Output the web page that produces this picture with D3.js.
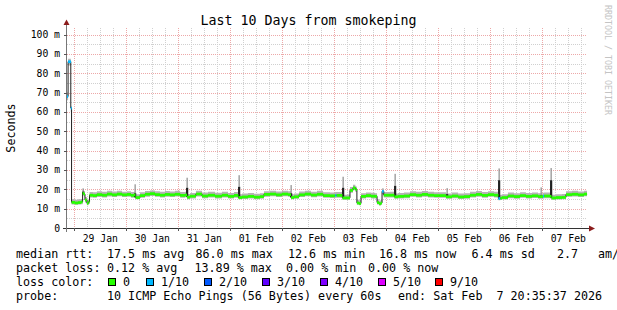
<!DOCTYPE html>
<html><head><meta charset="utf-8">
<script src="https://cdn.jsdelivr.net/npm/d3@7"></script>
<style>
html,body{margin:0;padding:0;background:#fff;overflow:hidden}
svg{display:block}
text{font-family:"DejaVu Sans Mono",monospace;fill:#000;white-space:pre}
</style></head><body>
<svg id="c" width="617" height="310"></svg>
<script>
// ---------------- data ----------------
const chartTitle = "Last 10 Days from smokeping";
const yAxisTitle = "Seconds";
const watermark = "RRDTOOL / TOBI OETIKER";
const startTime = new Date(Date.UTC(2026, 0, 28, 20, 35, 37));
const endTime = new Date(Date.UTC(2026, 1, 7, 20, 35, 37));

const yTickValues = [0, 10, 20, 30, 40, 50, 60, 70, 80, 90, 100];
const yTickLabels = ["0", "10 m", "20 m", "30 m", "40 m", "50 m", "60 m", "70 m", "80 m", "90 m", "100 m"];
const dayLabels = ["29 Jan", "30 Jan", "31 Jan", "01 Feb", "02 Feb", "03 Feb", "04 Feb", "05 Feb", "06 Feb", "07 Feb"];

// hours since start, median rtt (ms), smoke min/max (ms), loss colour index
const hours = [0.0,0.5,1.4,1.75,2.1,3.7,5.1,6.5,7.2,7.8,8.3,9.2,9.9,10.4,12.0,13.8,16.2,18.5,20.8,23.1,25.4,27.7,29.5,30.9,31.6,32.3,33.7,36.0,38.3,40.6,42.9,45.2,47.5,49.8,52.2,54.5,55.4,56.8,59.5,62.3,65.1,68.3,71.5,74.3,77.1,79.1,80.8,83.5,86.3,89.1,90.9,93.7,96.5,99.2,102.0,103.4,104.8,107.1,109.8,112.6,115.4,118.2,121.4,123.8,124.4,127.1,129.2,130.6,132.0,133.1,133.8,134.8,135.7,138.0,140.3,142.1,143.1,144.0,144.9,145.4,146.2,149.0,151.1,152.8,155.5,158.3,161.1,163.8,166.6,169.4,172.1,174.9,177.7,180.5,183.2,186.0,188.8,191.5,194.3,197.1,199.1,200.0,200.8,203.5,206.3,209.1,211.8,214.6,217.4,219.7,220.2,222.9,223.6,225.7,228.5,230.3,233.1,235.9,238.6,240.0];
const medianMs = [68,86,86,62,13.3,13.0,13.2,13.5,18.0,17.5,14.5,12.8,13.5,17.0,16.8,17.3,17.0,17.6,17.2,17.6,17.2,17.4,16.9,17.2,15.8,15.8,16.8,17.5,17.8,17.3,17.0,17.4,17.2,17.5,16.9,17.1,16.0,16.5,17.6,16.6,17.0,16.5,17.0,16.4,16.9,15.8,16.1,16.4,16.0,16.3,17.4,17.6,17.2,17.6,17.3,15.8,16.2,17.2,17.6,17.1,17.5,16.8,16.7,16.9,16.9,15.6,15.6,19.5,20.8,20.0,13.0,12.7,16.4,16.8,16.5,16.4,13.2,12.6,13.0,19.0,17.0,17.0,16.2,16.4,16.6,17.3,17.0,17.4,17.0,16.8,16.8,16.2,16.6,16.1,16.3,17.0,17.4,16.9,17.3,17.0,15.3,15.5,15.8,16.6,16.3,16.8,16.4,16.7,16.3,16.5,16.6,16.4,15.6,15.8,15.9,17.3,17.5,17.2,17.6,17.5];
const smokeLow = [66,84,84,60,12.2,12.0,12.1,12.3,16.8,16.3,13.2,11.8,12.4,15.8,15.6,16.0,15.8,16.3,16.0,16.4,16.0,16.1,15.7,16.0,14.8,14.8,15.6,16.2,16.5,16.1,15.8,16.2,16.0,16.3,15.7,15.9,14.9,15.3,16.3,15.4,15.8,15.3,15.8,15.2,15.7,14.8,15.0,15.2,14.9,15.1,16.2,16.4,16.0,16.4,16.1,14.8,15.1,16.0,16.4,15.9,16.3,15.6,15.5,15.7,15.7,14.6,14.6,18.2,19.5,18.6,12.0,11.7,15.2,15.6,15.3,15.2,12.2,11.6,12.0,17.5,15.8,15.8,15.1,15.2,15.4,16.1,15.8,16.2,15.8,15.6,15.6,15.1,15.4,15.0,15.1,15.8,16.2,15.7,16.1,15.8,14.3,14.5,14.7,15.4,15.1,15.6,15.2,15.5,15.1,15.3,15.4,15.2,14.6,14.7,14.8,16.1,16.3,16.0,16.4,16.3];
const smokeHigh = [70,87.5,87.5,63,14.8,14.6,14.8,15.0,19.5,19.0,16.0,14.3,15.0,18.6,18.5,19.0,18.7,19.2,18.9,19.2,18.8,19.0,18.6,18.8,17.4,17.5,18.5,19.1,19.4,19.0,18.7,19.1,18.9,19.2,18.6,18.8,17.6,18.1,19.2,18.3,18.7,18.2,18.7,18.1,18.6,17.4,17.8,18.1,17.7,18.0,19.0,19.3,18.9,19.3,19.0,17.4,17.9,18.9,19.3,18.8,19.2,18.5,18.4,18.6,18.6,17.2,17.3,21.2,22.3,21.5,14.6,14.3,18.0,18.4,18.2,18.0,14.8,14.2,14.6,20.5,18.6,18.7,17.8,18.1,18.3,19.0,18.7,19.1,18.7,18.5,18.5,17.9,18.3,17.8,18.0,18.7,19.1,18.6,19.0,18.7,17.0,17.2,17.5,18.3,18.0,18.5,18.1,18.4,18.0,18.2,18.3,18.1,17.2,17.5,17.6,19.0,19.2,18.9,19.3,19.2];
const lossIndex = [1,1,1,1,0,0,0,0,0,0,0,0,0,0,0,0,0,0,0,0,0,0,0,0,0,0,0,0,0,0,0,0,0,0,0,0,0,0,0,0,0,0,0,0,0,0,0,0,0,0,0,0,0,0,0,0,0,0,0,0,0,0,0,1,0,0,0,0,0,0,0,0,0,0,0,0,0,0,0,1,0,0,0,0,0,0,0,0,0,0,0,0,0,0,0,0,0,0,0,0,1,0,0,0,0,0,0,0,0,1,0,0,0,0,0,0,0,0,0,0];

// smoke spikes: hours since start, base (ms), dense part top (ms), sparse top (ms)
const spikeHours = [7.4, 31.4, 55.4, 79.4, 103.4, 127.4, 151.4, 175.4, 199.4, 218.8, 223.4];
const spikeBase = [17.5, 15.8, 16.0, 15.8, 15.8, 15.6, 16.2, 16.2, 15.3, 16.3, 15.6];
const spikeDense = [18.8, 18.0, 20.8, 21.3, 18.0, 20.8, 21.8, 17.5, 24.7, 17.0, 24.7];
const spikeTop = [20.5, 22.6, 26.0, 27.3, 22.2, 26.5, 28.0, 20.6, 30.8, 21.0, 31.0];

const lossLabels = ["0", "1/10", "2/10", "3/10", "4/10", "5/10", "9/10"];
const lossColors = ["#26ff00", "#00b8ff", "#0059ff", "#5e00ff", "#7e00ff", "#dd00ff", "#ff0000"];

const rttStats = ["median rtt:", "17.5 ms avg", "86.0 ms max", "12.6 ms min", "16.8 ms now", "6.4 ms sd", "2.7", "am/s"];
const lossStats = ["packet loss:", "0.12 % avg", "13.89 % max", "0.00 % min", "0.00 % now"];
const lossColorTitle = "loss color:";
const probeInfo = ["probe:", "10 ICMP Echo Pings (56 Bytes) every 60s", "end: Sat Feb  7 20:35:37 2026"];

// ---------------- layout ----------------
const svg = d3.select("#c");
const L = 67, R = 587, T = 28, B = 228;
const toDate = h => new Date(startTime.getTime() + h * 3600e3);
const x = d3.scaleUtc().domain([startTime, endTime]).range([L, R]);
const y = d3.scaleLinear().domain([0, 103.4]).range([B, T]);

// grid
const grid = svg.append("g").attr("shape-rendering", "crispEdges");
const minorY = d3.range(5, 103, 5).filter(v => v % 10 !== 0);
const majorY = yTickValues.filter(v => v > 0);
const minorCol = "#d0d0d0", majorCol = "#eda8a8";
grid.selectAll(".mny").data(minorY).join("line")
  .attr("x1", L).attr("x2", R).attr("y1", d => Math.round(y(d)) + 0.5).attr("y2", d => Math.round(y(d)) + 0.5)
  .attr("stroke", minorCol).attr("stroke-dasharray", "1,1");
const sixH = d3.utcHour.every(6).range(startTime, endTime).filter(d => d.getUTCHours() !== 0);
grid.selectAll(".mnx").data(sixH).join("line")
  .attr("x1", d => Math.round(x(d)) + 0.5).attr("x2", d => Math.round(x(d)) + 0.5).attr("y1", T).attr("y2", B)
  .attr("stroke", minorCol).attr("stroke-dasharray", "1,1");
grid.selectAll(".mjy").data(majorY).join("line")
  .attr("x1", L).attr("x2", R).attr("y1", d => Math.round(y(d)) + 0.5).attr("y2", d => Math.round(y(d)) + 0.5)
  .attr("stroke", majorCol).attr("stroke-dasharray", "1,1");
const days = d3.utcDay.range(startTime, endTime);
grid.selectAll(".mjx").data(days).join("line")
  .attr("x1", d => Math.round(x(d)) + 0.5).attr("x2", d => Math.round(x(d)) + 0.5).attr("y1", T).attr("y2", B)
  .attr("stroke", majorCol).attr("stroke-dasharray", "1,1");

// data
const pts = hours.map((h, i) => ({t: toDate(h), m: medianMs[i], lo: smokeLow[i], hi: smokeHigh[i], loss: lossIndex[i]}));
const plot = svg.append("g");
plot.append("path").datum(pts)
  .attr("d", d3.area().curve(d3.curveStepAfter).x(d => x(d.t)).y0(d => y(d.lo)).y1(d => y(d.hi)))
  .attr("fill", "#b4b4b4");
// spikes
const spikes = spikeHours.map((h, i) => ({t: toDate(h), b: spikeBase[i], d: spikeDense[i], top: spikeTop[i]}));
plot.selectAll(".spk1").data(spikes).join("rect")
  .attr("x", d => x(d.t) - 0.5).attr("width", 1.2)
  .attr("y", d => y(d.top)).attr("height", d => y(d.d) - y(d.top)).attr("fill", "#8c8c8c");
plot.selectAll(".spk2").data(spikes).join("rect")
  .attr("x", d => x(d.t) - 1).attr("width", 2.2)
  .attr("y", d => y(d.d)).attr("height", d => y(d.b) - y(d.d)).attr("fill", "#202020");
// median dark line
plot.append("path").datum(pts)
  .attr("d", d3.line().curve(d3.curveStepAfter).x(d => x(d.t)).y(d => y(d.m)))
  .attr("fill", "none").attr("stroke", "#202020").attr("stroke-width", 1);
// loss-coloured median band
const segs = pts.slice(0, -1).map((p, i) => ({t0: p.t, t1: pts[i + 1].t, m: p.m, loss: p.loss}));
plot.selectAll(".seg").data(segs).join("rect")
  .attr("x", d => x(d.t0)).attr("width", d => Math.max(1, x(d.t1) - x(d.t0)))
  .attr("y", d => y(d.m) - 1.3).attr("height", 2.8)
  .attr("fill", d => lossColors[d.loss]);

// axes
const ax = svg.append("g").attr("shape-rendering", "crispEdges");
ax.append("line").attr("x1", 63).attr("x2", 591).attr("y1", B + 0.5).attr("y2", B + 0.5).attr("stroke", "#333");
ax.append("line").attr("x1", 66.5).attr("x2", 66.5).attr("y1", 24).attr("y2", 232).attr("stroke", "#777");
svg.append("path").attr("d", "M63.5,25L66.5,19.5L69.5,25Z").attr("fill", "#8b1c1c");
svg.append("path").attr("d", "M589,225.5L595,228.5L589,231.5Z").attr("fill", "#8b1c1c");
ax.selectAll(".tky").data(majorY).join("line")
  .attr("x1", 64).attr("x2", 67).attr("y1", d => Math.round(y(d)) + 0.5).attr("y2", d => Math.round(y(d)) + 0.5).attr("stroke", "#555");
ax.selectAll(".tkx").data(days).join("line")
  .attr("x1", d => Math.round(x(d)) + 0.5).attr("x2", d => Math.round(x(d)) + 0.5).attr("y1", B).attr("y2", B + 3).attr("stroke", "#555");

// tick labels
svg.selectAll(".yl").data(yTickValues).join("text")
  .attr("x", 60).attr("y", d => y(d) + 3.5).attr("text-anchor", "end")
  .style("font-size", "9.75px").text((d, i) => yTickLabels[i]);
svg.selectAll(".xl").data(days).join("text")
  .attr("x", d => x(d3.utcHour.offset(d, 12))).attr("y", 241.5).attr("text-anchor", "middle")
  .style("font-size", "9.75px").text((d, i) => dayLabels[i]);

// titles
svg.append("text").attr("x", 308.5).attr("y", 24.5).attr("text-anchor", "middle")
  .style("font-size", "13.3px").text(chartTitle);
svg.append("text").attr("transform", "translate(15,128) rotate(-90)").attr("text-anchor", "middle")
  .style("font-size", "11.7px").text(yAxisTitle);
svg.append("text").attr("transform", "translate(604.5,5) rotate(90)")
  .style("font-size", "8.3px").style("fill", "#c4c4c4").text(watermark);

// legend
const lg = svg.append("g").style("font-size", "11.7px");
const rttX = [16, 107, 195.5, 288, 379, 471.5, 557, 598];
rttStats.forEach((s, i) => lg.append("text").attr("x", rttX[i]).attr("y", 258).text(s));
const lossX = [16, 107, 194.5, 286, 368];
lossStats.forEach((s, i) => lg.append("text").attr("x", lossX[i]).attr("y", 272).text(s));
lg.append("text").attr("x", 16).attr("y", 286).text(lossColorTitle);
const boxX = [108, 146, 204, 262, 320, 378, 435];
lossLabels.forEach((s, i) => {
  lg.append("rect").attr("x", boxX[i] + 0.5).attr("y", 278.5).attr("width", 7).attr("height", 7)
    .attr("fill", lossColors[i]).attr("stroke", "#000").attr("stroke-width", 1).attr("shape-rendering", "crispEdges");
  lg.append("text").attr("x", boxX[i] + 15).attr("y", 286).text(s);
});
const probeX = [16, 107, 398];
probeInfo.forEach((s, i) => lg.append("text").attr("x", probeX[i]).attr("y", 300).text(s));
</script>
</body></html>
